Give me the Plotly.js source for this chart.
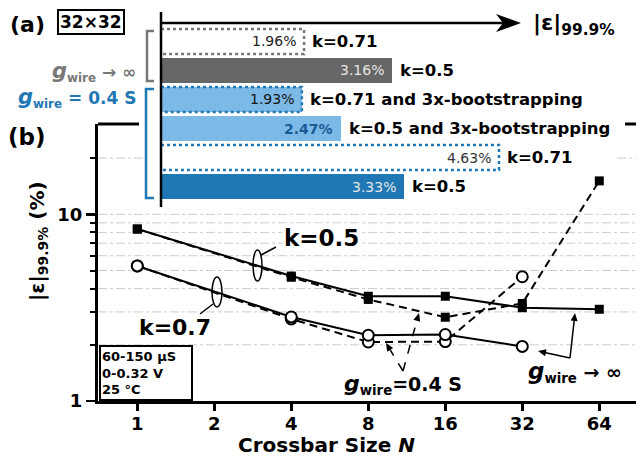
<!DOCTYPE html>
<html><head><meta charset="utf-8">
<script src="https://cdn.plot.ly/plotly-3.0.1.min.js"></script>
<style>html,body{margin:0;padding:0;background:#fff}#chart{width:636px;height:458px}</style>
</head><body><div id="chart"></div>
<script>
// ---------- data (b) ----------
const sizesSq = [1, 4, 8, 16, 32, 64];
const k05Inf = [8.34, 4.67, 3.64, 3.64, 3.16, 3.10];
const k05G04 = [8.34, 4.60, 3.50, 2.81, 3.33, 15.1];
const sizesCi = [1, 4, 8, 16, 32];
const k07Inf = [5.29, 2.82, 2.25, 2.27, 1.96];
const k07G04 = [5.29, 2.75, 2.07, 2.08, 4.63];
const xTicks = [1, 2, 4, 8, 16, 32, 64];
const xTickText = ['1', '2', '4', '8', '16', '32', '64'];
const yTicks = [1, 10];
const yTickText = ['1', '10'];
const yMinor = [2, 3, 4, 5, 6, 7, 8, 9, 20];
const yGrid = [2, 3, 4, 5, 6, 7, 8, 9, 10];
// ---------- data (a) ----------
const barLabels = ['k=0.71', 'k=0.5', 'k=0.71 and 3x-bootstrapping', 'k=0.5 and 3x-bootstrapping', 'k=0.71', 'k=0.5'];
const barValues = [1.96, 3.16, 1.93, 2.47, 4.63, 3.33];
const barText = ['1.96%', '3.16%', '1.93%', '2.47%', '4.63%', '3.33%'];
const barIndex = [0, 1, 2, 3, 4, 5];

// ---------- styles ----------
const FONT = 'DejaVu Sans';
const GRAY = '#777777', BLUE = '#1f77b4', LBLUE = '#7db9e6';
const barFill = ['white', '#666666', LBLUE, LBLUE, 'white', BLUE];
const barDotted = [GRAY, null, BLUE, null, BLUE, null];
const valColor = ['#222', '#e6e6e6', '#111', '#1a5a94', '#333', '#e6e6e6'];
const valBold = [false, false, false, true, false, false];

const W = 636, H = 458;
const X0 = 98, X1 = 636, Y0 = 401, Y1 = 124;
const xr = [-0.1536, 1.9497], yr = [0, 1.4837];
const fx = p => p / W, fy = p => 1 - p / H;
const P = (pts, close) => 'M' + pts.map(q => fx(q[0]).toFixed(5) + ',' + fy(q[1]).toFixed(5)).join('L') + (close ? 'Z' : '');

const shapes = [];
// grid lines (dash-dot), the one at 20 is hidden behind inset (a)
yGrid.forEach(v => shapes.push({type: 'line', xref: 'paper', yref: 'y', layer: 'below', x0: fx(X0), x1: 1, y0: v, y1: v,
  line: {color: '#cccccc', width: 1, dash: 'dashdot'}}));
[[X0, 147], [617, 636]].forEach(s => shapes.push({type: 'line', xref: 'paper', yref: 'y', layer: 'below',
  x0: fx(s[0]), x1: fx(s[1]), y0: 20, y1: 20, line: {color: '#cccccc', width: 1, dash: 'dashdot'}}));

function seg(x0, y0, x1, y1, color, width, dash) {
  shapes.push({type: 'line', xref: 'paper', yref: 'paper', x0: fx(x0), y0: fy(y0), x1: fx(x1), y1: fy(y1),
    line: {color: color, width: width, dash: dash || 'solid'}, layer: 'above'});
}
function arrow(fromx, fromy, tx, ty, dash, L, w) {
  L = L || 8; w = w || 3.5;
  const d = Math.hypot(tx - fromx, ty - fromy);
  const ux = (tx - fromx) / d, uy = (ty - fromy) / d;
  const bx = tx - ux * L, by = ty - uy * L, nx = -uy, ny = ux;
  seg(fromx, fromy, tx - ux * L * 0.7, ty - uy * L * 0.7, 'black', 1.5, dash);
  shapes.push({type: 'path', xref: 'paper', yref: 'paper', layer: 'above',
    path: P([[tx, ty], [bx + nx * w, by + ny * w], [bx - nx * w, by - ny * w]], true),
    fillcolor: 'black', line: {width: 0}});
}

// top frame visible parts
seg(98, 124, 139, 124, 'black', 3);
seg(625, 124, 640, 124, 'black', 3);
// inset axis line and arrow
seg(161, 12, 161, 207, 'black', 2.5);
seg(161, 23, 505, 23, 'black', 2.5);
shapes.push({type: 'path', xref: 'paper', yref: 'paper', layer: 'above',
  path: P([[521, 23], [496, 14], [503, 23], [496, 32]], true), fillcolor: 'black', line: {width: 0}});
// brackets
shapes.push({type: 'path', xref: 'paper', yref: 'paper', layer: 'above',
  path: P([[154, 31], [147, 31], [147, 81], [154, 81]], false), line: {color: GRAY, width: 2.5}});
shapes.push({type: 'path', xref: 'paper', yref: 'paper', layer: 'above',
  path: P([[154, 89], [146, 89], [146, 198], [154, 198]], false), line: {color: BLUE, width: 2.5}});
// ellipses and leader lines
shapes.push({type: 'circle', xref: 'paper', yref: 'paper', layer: 'above', x0: fx(253), x1: fx(262), y0: fy(250), y1: fy(281), line: {color: 'black', width: 1.5}});
shapes.push({type: 'circle', xref: 'paper', yref: 'paper', layer: 'above', x0: fx(212), x1: fx(222), y0: fy(277), y1: fy(307), line: {color: 'black', width: 1.5}});
seg(261, 255, 276, 247, 'black', 1.5);
seg(213, 304, 200, 314, 'black', 1.5);
// annotation arrows
arrow(403, 371, 419, 313, 'dash');
arrow(403, 371, 386, 343, 'dash');
arrow(570, 358, 575, 313);
arrow(570, 358, 538, 351);

const traces = [];
function series(x, y, sym, dash) {
  traces.push({x: x, y: y, type: 'scatter', mode: 'lines+markers', xaxis: 'x', yaxis: 'y',
    line: {color: 'black', width: 2, dash: dash},
    marker: sym === 'square' ? {symbol: 'square', size: 9, color: 'black'} :
      {symbol: 'circle', size: 11, color: 'white', line: {color: 'black', width: 2}},
    hoverinfo: 'skip', cliponaxis: false});
}
series(sizesSq, k05G04, 'square', '8px,5px');
series(sizesCi, k07G04, 'circle', '8px,5px');
series(sizesSq, k05Inf, 'square', 'solid');
series(sizesCi, k07Inf, 'circle', 'solid');

// inset bars
traces.push({type: 'bar', orientation: 'h', x: barValues, y: barIndex, xaxis: 'x2', yaxis: 'y2',
  width: 0.84, marker: {color: barFill, line: {width: 0}}, hoverinfo: 'skip'});
barIndex.forEach(i => {
  if (!barDotted[i]) return;
  const v = barValues[i], h = 0.43;
  traces.push({type: 'scatter', mode: 'lines', xaxis: 'x2', yaxis: 'y2',
    x: [0, v, v, 0], y: [i - h, i - h, i + h, i + h],
    line: {color: barDotted[i], width: 2.5, dash: 'dot'}, hoverinfo: 'skip'});
});

const ann = [];
function txt(x, y, text, size, opts) {
  ann.push(Object.assign({xref: 'paper', yref: 'paper', x: fx(x), y: fy(y), text: text, showarrow: false,
    font: {family: FONT, size: size, color: 'black'}, xanchor: 'center', yanchor: 'middle'}, opts || {}));
}
barIndex.forEach(i => {
  ann.push({xref: 'x2', yref: 'y2', x: barValues[i], y: barIndex[i], text: valBold[i] ? '<b>' + barText[i] + '</b>' : barText[i],
    showarrow: false, xanchor: 'right', xshift: -6, font: {family: FONT, size: 14, color: valColor[i]}});
  ann.push({xref: 'x2', yref: 'y2', x: barValues[i], y: barIndex[i], text: '<b>' + barLabels[i] + '</b>',
    showarrow: false, xanchor: 'left', xshift: 6, font: {family: FONT, size: 16.5, color: 'black'}});
});
const G = s => '<span style="font-size:' + s + 'px"><i>g</i></span>';
txt(27, 25, '<b>(a)</b>', 22);
txt(91, 22, '<b>32×32</b>', 17, {bordercolor: 'black', borderwidth: 2, borderpad: 1, bgcolor: 'white'});
txt(531, 25, '<b>|ε|<sub>99.9%</sub></b>', 22, {xanchor: 'left'});
txt(138, 72, '<b>' + G(21) + '<sub>wire</sub> → ∞</b>', 17, {xanchor: 'right', font: {family: FONT, size: 17, color: GRAY}});
txt(138, 98, '<b>' + G(21) + '<sub>wire</sub> = 0.4 S</b>', 17, {xanchor: 'right', font: {family: FONT, size: 17, color: BLUE}});
txt(27, 137, '<b>(b)</b>', 23);
txt(38, 241, '<b>|ε|<sub>99.9%</sub> (%)</b>', 20, {textangle: -90});
txt(326, 445, '<b>Crossbar Size <i>N</i></b>', 20);
txt(321, 238, '<b>k=0.5</b>', 23, {bgcolor: 'white'});
txt(175, 327, '<b>k=0.7</b>', 22);
txt(403, 384, '<b>' + G(22) + '<sub>wire</sub>=0.4 S</b>', 19);
txt(526, 372, '<b>' + G(23) + '<sub>wire</sub> → ∞</b>', 19, {xanchor: 'left'});
txt(99, 401, '<b>60-150 μS<br>0-0.32 V<br>25 °C</b>', 13, {xanchor: 'left', yanchor: 'bottom', align: 'left',
  width: 88, height: 50, bordercolor: 'black', borderwidth: 2, borderpad: 1, bgcolor: 'white'});

const tickFont = {family: FONT, size: 18, color: 'black', weight: 'bold'};
const layout = {
  width: W, height: H, margin: {l: 0, r: 0, t: 0, b: 0},
  paper_bgcolor: 'white', plot_bgcolor: 'rgba(0,0,0,0)', showlegend: false, hovermode: false,
  font: {family: FONT, color: 'black'},
  xaxis: {domain: [X0 / W, 1], type: 'log', range: xr, tickvals: xTicks, ticktext: xTickText,
    ticks: 'outside', ticklen: 7, tickwidth: 2.5, tickcolor: 'black', showline: true, linewidth: 3, linecolor: 'black',
    showgrid: false, zeroline: false, tickfont: tickFont, ticklabelstandoff: -3, anchor: 'y', fixedrange: true},
  yaxis: {domain: [1 - Y0 / H, 1 - Y1 / H], type: 'log', range: yr, tickvals: yTicks, ticktext: yTickText,
    ticks: 'outside', ticklen: 9, tickwidth: 2.5, tickcolor: 'black', showline: true, linewidth: 3, linecolor: 'black',
    showgrid: false, zeroline: false, tickfont: tickFont,
    minor: {tickvals: yMinor, ticks: 'outside', ticklen: 5, tickwidth: 2, tickcolor: 'black', showgrid: false},
    anchor: 'x', fixedrange: true},
  xaxis2: {domain: [161 / W, 1], range: [0, 475 / 73], visible: false, anchor: 'y2', fixedrange: true},
  yaxis2: {domain: [1 - 201 / H, 1 - 27 / H], range: [5.5, -0.5], visible: false, anchor: 'x2', fixedrange: true},
  shapes: shapes, annotations: ann, bargap: 0
};
Plotly.newPlot('chart', traces, layout, {staticPlot: true, displayModeBar: false});
</script></body></html>
